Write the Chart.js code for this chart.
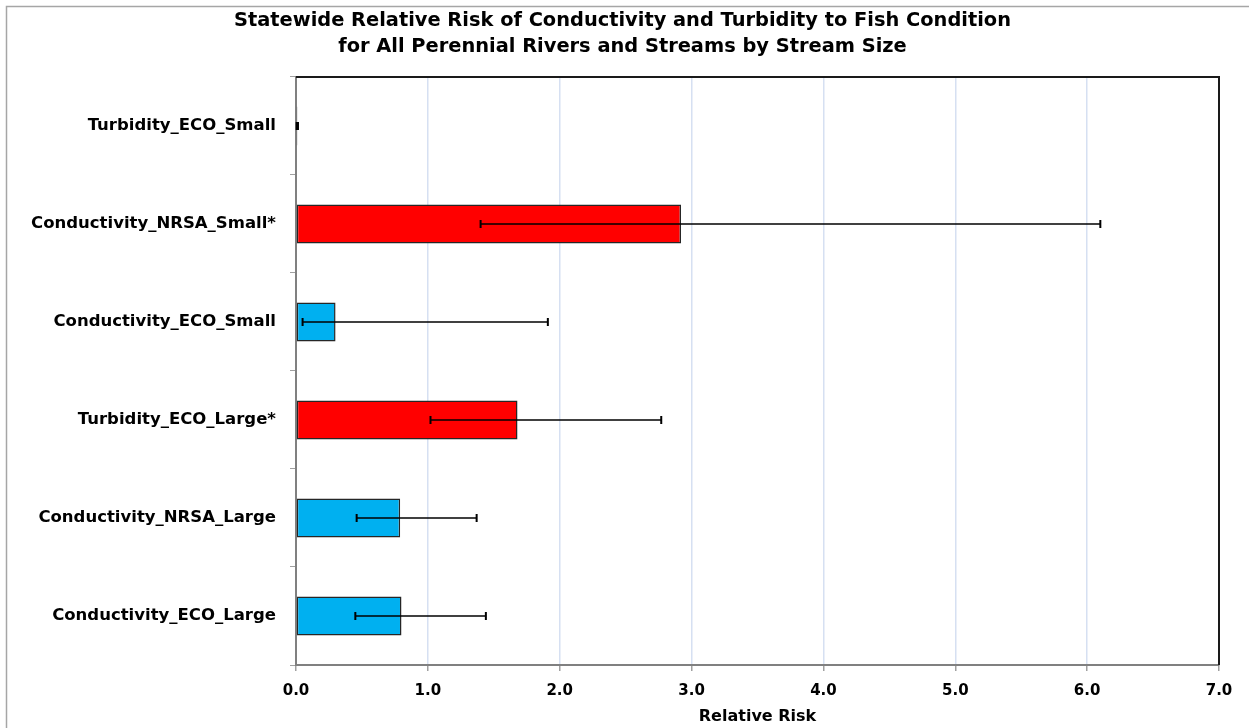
<!DOCTYPE html>
<html><head><meta charset="utf-8">
<script src="https://cdn.jsdelivr.net/npm/chart.js@4/dist/chart.umd.min.js"></script>
<style>html,body{margin:0;padding:0;background:#fff}#wrap{width:1249px;height:728px;position:relative}</style>
</head><body><div id="wrap"><canvas id="c" width="1249" height="728"></canvas></div>
<script>
const titleLines = ['Statewide Relative Risk of Conductivity and Turbidity to Fish Condition', 'for All Perennial Rivers and Streams by Stream Size'];
const categories = ['Turbidity_ECO_Small', 'Conductivity_NRSA_Small*', 'Conductivity_ECO_Small', 'Turbidity_ECO_Large*', 'Conductivity_NRSA_Large', 'Conductivity_ECO_Large'];
const relativeRisk = [0.01, 2.92, 0.30, 1.68, 0.79, 0.80];
const ciLow = [0.005, 1.40, 0.05, 1.02, 0.46, 0.45];
const ciHigh = [0.015, 6.10, 1.91, 2.77, 1.37, 1.44];
const significant = [false, true, false, true, false, false];
const xTickLabels = ['0.0', '1.0', '2.0', '3.0', '4.0', '5.0', '6.0', '7.0'];
const xAxisTitle = 'Relative Risk';

const FONT = '"DejaVu Sans", "Liberation Sans", Arial, sans-serif';

const extras = {
  id: 'extras',
  beforeDraw(chart) {
    const ctx = chart.ctx;
    ctx.save();
    ctx.strokeStyle = '#A6A6A6';
    ctx.lineWidth = 1.5;
    ctx.beginPath();
    ctx.moveTo(6.5, 740); ctx.lineTo(6.5, 6.5); ctx.lineTo(1260, 6.5);
    ctx.stroke();
    ctx.restore();
  },
  afterDatasetsDraw(chart) {
    const ctx = chart.ctx;
    const xs = chart.scales.x, ys = chart.scales.y;
    ctx.save();
    ctx.strokeStyle = '#000';
    categories.forEach((c, i) => {
      const y = ys.getPixelForValue(i);
      const x1 = xs.getPixelForValue(ciLow[i]);
      const x2 = xs.getPixelForValue(ciHigh[i]);
      ctx.lineWidth = 1.5;
      ctx.beginPath();
      ctx.moveTo(x1, y); ctx.lineTo(x2, y);
      ctx.stroke();
      ctx.lineWidth = 2;
      ctx.beginPath();
      ctx.moveTo(x1, y - 4); ctx.lineTo(x1, y + 4);
      ctx.moveTo(x2, y - 4); ctx.lineTo(x2, y + 4);
      ctx.stroke();
    });
    const a = chart.chartArea;
    ctx.strokeStyle = '#1a1a1a';
    ctx.lineWidth = 2;
    ctx.beginPath();
    ctx.moveTo(a.left, a.top); ctx.lineTo(a.right, a.top); ctx.lineTo(a.right, a.bottom);
    ctx.stroke();
    ctx.restore();
  }
};

new Chart(document.getElementById('c'), {
  type: 'bar',
  data: {
    labels: categories,
    datasets: [{
      data: relativeRisk,
      backgroundColor: significant.map(s => s ? '#FF0000' : '#00B0F0'),
      borderColor: '#262626',
      borderWidth: 1.5,
      borderSkipped: false,
      categoryPercentage: 1,
      barPercentage: 0.4
    }]
  },
  options: {
    indexAxis: 'y',
    responsive: false,
    animation: false,
    layout: { padding: { left: 26, right: 30, top: 0, bottom: 0 } },
    plugins: {
      legend: { display: false },
      tooltip: { enabled: false },
      title: {
        display: true,
        text: titleLines,
        color: '#000',
        font: { family: FONT, size: 19.4, weight: 'bold', lineHeight: 1.34 },
        padding: { top: 8, bottom: 17 }
      }
    },
    scales: {
      x: {
        min: 0, max: 7,
        ticks: {
          stepSize: 1,
          color: '#000',
          font: { family: FONT, size: 15, weight: 'bold' },
          padding: 11,
          callback: (v) => xTickLabels[Math.round(v)]
        },
        grid: { color: '#D6E0F2', lineWidth: 1.5, tickColor: '#A0A0A0', tickLength: 6, drawTicks: true },
        border: { color: '#808080', width: 2 },
        title: {
          display: true, text: xAxisTitle, color: '#000',
          font: { family: FONT, size: 16, weight: 'bold' },
          padding: { top: 4, bottom: 2 }
        },
        afterFit(s) { s.height = 63; }
      },
      y: {
        offset: true,
        ticks: {
          color: '#000',
          font: { family: FONT, size: 16.5, weight: 'bold' },
          padding: 14
        },
        grid: { offset: true, drawOnChartArea: false, tickColor: '#A0A0A0', tickLength: 6 },
        border: { color: '#808080', width: 2 },
        afterFit(s) { s.width = 270; }
      }
    }
  },
  plugins: [extras]
});
</script>
</body></html>
